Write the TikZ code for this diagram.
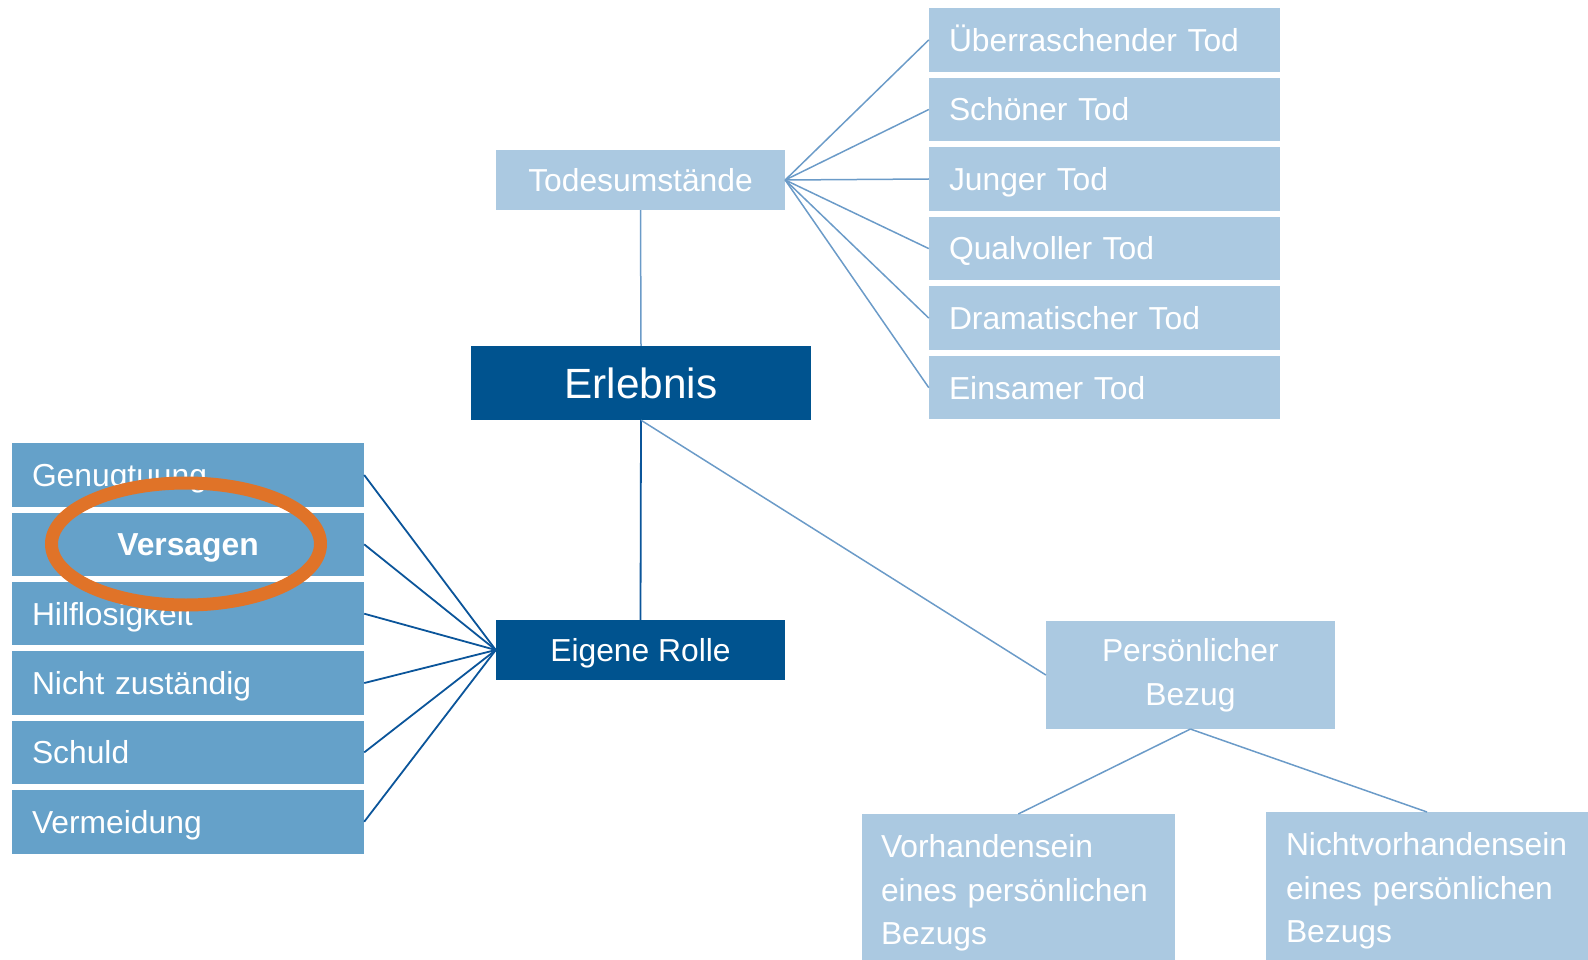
\documentclass[tikz,border=0pt]{standalone}
\usepackage{fontspec}
\setmainfont{Liberation Sans}

\definecolor{boxlight}{HTML}{ABC9E1}
\definecolor{boxmid}{HTML}{65A1C9}
\definecolor{boxdark}{HTML}{00538F}
\definecolor{linelight}{HTML}{6B9BC8}
\definecolor{linedark}{HTML}{0B559A}
\definecolor{markorange}{HTML}{E07328}

\begin{document}
\begin{tikzpicture}[x=1pt, y=-1pt,
  base/.style={inner sep=0pt, text=white},
  oneline/.style={text height=22.8pt, text depth=0pt, font=\fontsize{31.8}{38}\selectfont},
  lightbox/.style={base, fill=boxlight},
  midbox/.style={base, fill=boxmid},
  darkbox/.style={base, fill=boxdark},
  leftitem/.style={midbox, oneline, minimum width=352pt, minimum height=63.5pt,
    text width=312pt, inner xsep=20pt, align=left},
  rightitem/.style={lightbox, oneline, minimum width=350.6pt, minimum height=63.5pt,
    text width=310.6pt, inner xsep=20pt, align=left},
  bottomitem/.style={lightbox, anchor=north, inner ysep=20.5pt, align=left,
    font=\fontsize{31.8}{43.3}\selectfont},
  thin/.style={draw=linelight, line width=1.5pt},
  thick/.style={draw=linedark, line width=1.8pt}
]
\useasboundingbox (0,0) rectangle (1588,960);

% central nodes
\node[darkbox, minimum width=340pt, minimum height=74pt,
  text height=30.3pt, text depth=-3.5pt, font=\fontsize{42.3}{50}\selectfont]
  (erl) at (641,383) {Erlebnis};
\node[lightbox, oneline, minimum width=289pt, minimum height=60pt]
  (tod) at (640.5,180) {Todesumstände};
\node[darkbox, oneline, minimum width=289pt, minimum height=60pt]
  (rol) at (640.5,650) {Eigene Rolle};
\node[lightbox, align=center, minimum width=288.7pt, minimum height=107.7pt,
  font=\fontsize{31.8}{44}\selectfont]
  (bez) at (1190.4,675) {Persönlicher\\Bezug};

% circumstances of death
\node[rightitem] (t1) at (1104.3,39.9)  {Überraschender Tod};
\node[rightitem] (t2) at (1104.3,109.5) {Schöner Tod};
\node[rightitem] (t3) at (1104.3,179.0) {Junger Tod};
\node[rightitem] (t4) at (1104.3,248.6) {Qualvoller Tod};
\node[rightitem] (t5) at (1104.3,318.1) {Dramatischer Tod};
\node[rightitem] (t6) at (1104.3,387.7) {Einsamer Tod};

% own role
\node[leftitem] (r1) at (188,475.0) {Genugtuung};
\node[leftitem, align=center, font=\fontsize{31.8}{38}\selectfont\bfseries]
  (r2) at (188,544.35) {Versagen};
\node[leftitem] (r3) at (188,613.7)  {Hilflosigkeit};
\node[leftitem] (r4) at (188,683.05) {Nicht zuständig};
\node[leftitem] (r5) at (188,752.4)  {Schuld};
\node[leftitem] (r6) at (188,821.75) {Vermeidung};

% personal relation
\node[bottomitem, text width=274.5pt, inner xsep=19.5pt]
  (b1) at (1018.25,814) {Vorhandensein\\eines persönlichen\\Bezugs};
\node[bottomitem, text width=282pt, inner xsep=20pt]
  (b2) at (1427,812) {Nichtvorhandensein\\eines persönlichen\\Bezugs};

% connectors
\draw[thin] (tod.south) -- (erl.north);
\draw[thick] (erl.south) -- (rol.north);
\draw[thin] (erl.south) -- (bez.west);
\foreach \t in {t1,t2,t3,t4,t5,t6}
  \draw[thin] (tod.east) -- (\t.west);
\foreach \r in {r1,r2,r3,r4,r5,r6}
  \draw[thick] (\r.east) -- (rol.west);
\draw[thin] (bez.south) -- (b1.north);
\draw[thin] (bez.south) -- (b2.north);

% highlight ring
\draw[markorange, line width=13pt] (186,544) ellipse [x radius=134.5pt, y radius=61pt];
\end{tikzpicture}
\end{document}
